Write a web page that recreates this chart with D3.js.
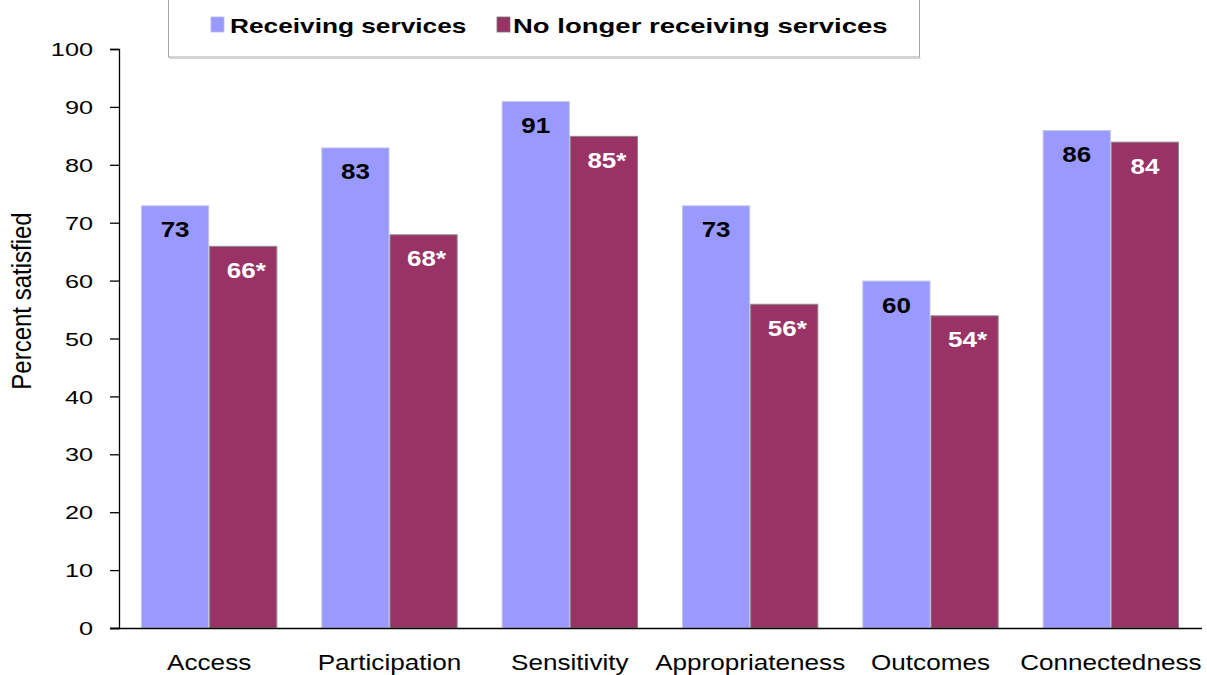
<!DOCTYPE html>
<html>
<head>
<meta charset="utf-8">
<script src="https://cdn.jsdelivr.net/npm/d3@7"></script>
<style>
  html, body { margin: 0; padding: 0; background: #fff; }
  svg { display: block; font-family: "Liberation Sans", Arial, sans-serif; }
</style>
</head>
<body>
<svg id="chart" width="1207" height="675"></svg>
<script>
// Satisfaction by domain, two client groups
const categories = ["Access", "Participation", "Sensitivity", "Appropriateness", "Outcomes", "Connectedness"];
const seriesNames = ["Receiving services", "No longer receiving services"];
const receiving = [73, 83, 91, 73, 60, 86];
const noLonger = [66, 68, 85, 56, 54, 84];
// asterisk marks a significant difference between groups
const significant = [true, true, true, true, true, false];
const yTicks = [0, 10, 20, 30, 40, 50, 60, 70, 80, 90, 100];

const fills = ["#9999FF", "#993366"];
const strokes = ["#c4c4e4", "#8a8a8a"];
const labelColors = ["#000", "#fff"];

const svg = d3.select("#chart");
const plotLeft = 119, plotRight = 1201, plotTop = 49, plotBottom = 628;

const x0 = d3.scaleBand().domain(categories).range([plotLeft, plotRight])
  .paddingInner(0.244).paddingOuter(0.122);
const x1 = d3.scaleBand().domain([0, 1]).range([0, x0.bandwidth()]).padding(0);
const y = d3.scaleLinear().domain([0, 100]).range([plotBottom, plotTop]);

const rows = categories.map((c, i) => ({
  cat: c,
  vals: [
    { s: 0, v: receiving[i], label: String(receiving[i]) },
    { s: 1, v: noLonger[i], label: noLonger[i] + (significant[i] ? "*" : "") }
  ]
}));

// horizontally stretched text helper
function stretchedText(g, x, yy, sx, txt) {
  return g.append("text")
    .attr("transform", `translate(${x},${yy}) scale(${sx},1)`)
    .text(txt);
}

// bars
const groups = svg.append("g").selectAll("g").data(rows).join("g")
  .attr("transform", d => `translate(${x0(d.cat)},0)`);

groups.selectAll("rect").data(d => d.vals).join("rect")
  .attr("x", d => x1(d.s) + 0.5)
  .attr("y", d => y(d.v) + 0.5)
  .attr("width", x1.bandwidth() - 1)
  .attr("height", d => y(0) - y(d.v) - 0.5)
  .attr("fill", d => fills[d.s])
  .attr("stroke", d => strokes[d.s])
  .attr("stroke-width", 1);

// value labels inside bar tops
groups.each(function(d) {
  const g = d3.select(this);
  d.vals.forEach(v => {
    stretchedText(g, x1(v.s) + x1.bandwidth() / 2 + (v.label.endsWith("*") ? 3 : 0), y(v.v) + 32, 1.18, v.label)
      .attr("text-anchor", "middle")
      .attr("font-size", 22)
      .attr("font-weight", "bold")
      .attr("fill", labelColors[v.s]);
  });
});

// y axis
const yAxis = svg.append("g").attr("transform", `translate(${plotLeft},0)`)
  .call(d3.axisLeft(y).tickValues(yTicks).tickSize(9).tickFormat(""));
yAxis.select(".domain").attr("stroke", "#000").attr("stroke-width", 1.3);
yAxis.selectAll(".tick line").attr("stroke", "#000").attr("stroke-width", 1.3);
yAxis.selectAll(".tick").each(function(t) {
  stretchedText(d3.select(this), -26, 0, 1.33, d3.format("d")(t))
    .attr("text-anchor", "end")
    .attr("dy", "0.35em")
    .attr("font-size", 19)
    .attr("fill", "#000");
});

// x axis
const xAxis = svg.append("g").attr("transform", `translate(0,${plotBottom})`)
  .call(d3.axisBottom(x0).tickSize(0).tickFormat(""));
xAxis.select(".domain").attr("d", `M${plotLeft - 9},0.5H${plotRight + 1}`)
  .attr("stroke", "#000").attr("stroke-width", 1.3);
xAxis.selectAll(".tick").each(function(c) {
  stretchedText(d3.select(this), 0, 42, 1.16, c)
    .attr("text-anchor", "middle")
    .attr("font-size", 22.5)
    .attr("fill", "#000");
});

// y axis title
svg.append("text")
  .attr("transform", `translate(31,301) scale(1.13,1) rotate(-90)`)
  .attr("text-anchor", "middle")
  .attr("font-size", 24)
  .attr("fill", "#000")
  .text("Percent satisfied");

// legend
const legend = svg.append("g");
legend.append("rect")
  .attr("x", 168.5).attr("y", -10).attr("width", 751).attr("height", 67)
  .attr("fill", "#fff").attr("stroke", "#a6a6a6").attr("stroke-width", 1);
legend.append("line")
  .attr("x1", 169).attr("x2", 921).attr("y1", 58.5).attr("y2", 58.5)
  .attr("stroke", "#d4d4d4").attr("stroke-width", 1);
const legendX = [211, 497];
const legendTextX = [230, 513];
seriesNames.forEach((name, i) => {
  legend.append("rect")
    .attr("x", legendX[i]).attr("y", 17).attr("width", 13).attr("height", 15)
    .attr("fill", fills[i]).attr("stroke", i === 0 ? "#b8b8e8" : "#777").attr("stroke-width", 0.8);
  stretchedText(legend, legendTextX[i], 33, i === 0 ? 1.25 : 1.31, name)
    .attr("font-size", 21)
    .attr("font-weight", "bold")
    .attr("fill", "#000");
});
</script>
</body>
</html>
